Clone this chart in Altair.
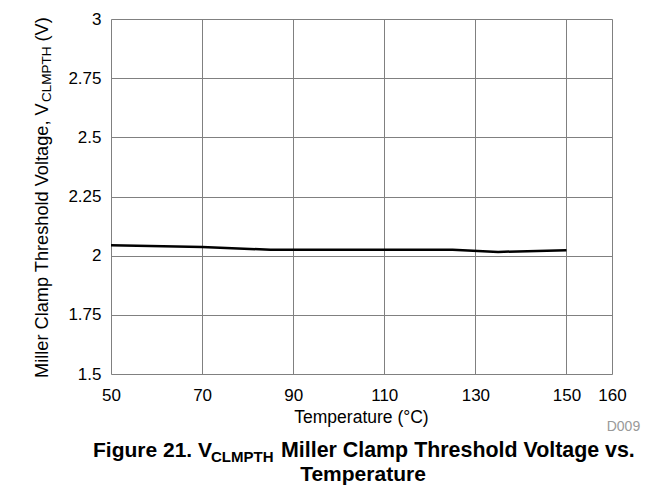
import altair as alt
import pandas as pd

# Data
temperature = [50, 70, 85, 100, 125, 135, 150]
vclmpth = [2.044, 2.037, 2.025, 2.025, 2.025, 2.016, 2.023]

x_ticks = [50, 70, 90, 110, 130, 150, 160]
y_ticks = [1.5, 1.75, 2.0, 2.25, 2.5, 2.75, 3.0]

FONT = "Liberation Sans"

df = pd.DataFrame({"temp": temperature, "v": vclmpth})

W, H = 501, 355

line = alt.Chart(df).mark_line(color="black", strokeWidth=2.5).encode(
    x=alt.X("temp:Q", scale=alt.Scale(domain=[50, 160], nice=False, zero=False),
            axis=alt.Axis(values=x_ticks, title=None, grid=True, gridColor="#808080",
                          gridWidth=1, domain=False, ticks=False, tickSize=0,
                          labelFont=FONT, labelFontSize=17, labelColor="black",
                          labelPadding=13, labelFlush=False)),
    y=alt.Y("v:Q", scale=alt.Scale(domain=[1.5, 3], nice=False, zero=False),
            axis=alt.Axis(values=y_ticks, labelExpr="'' + datum.value", title=None,
                          grid=True, gridColor="#808080", gridWidth=1, domain=False,
                          ticks=False, tickSize=0, labelFont=FONT, labelFontSize=17,
                          labelColor="black", labelPadding=10, labelFlush=False)),
)


def txt(s, x, y, size, bold=False, align="left", angle=0, color="black", baseline="alphabetic"):
    return alt.Chart(pd.DataFrame({"t": [s]})).mark_text(
        font=FONT, fontSize=size, fontWeight="bold" if bold else "normal",
        align=align, baseline=baseline, angle=angle, color=color,
    ).encode(x=alt.value(x), y=alt.value(y), text="t:N")


texts = [
    # y axis title (rotated), with subscript
    txt("Miller Clamp Threshold Voltage, V", -62.7, 359, 18.2, angle=270),
    txt("CLMPTH", -60, 83, 13.5, angle=270),
    txt("(V)", -62.7, 22.5, 18.2, angle=270),
    # x axis title
    txt("Temperature (°C)", 250.5, 404.3, 17.5, align="center"),
    txt("D009", 495.7, 411.7, 14, color="#999999"),
    # figure caption
    txt("Figure 21. V", -18, 438, 21, bold=True),
    txt("CLMPTH", 100, 442.5, 15, bold=True),
    txt("Miller Clamp Threshold Voltage vs.", 170, 438, 21.4, bold=True),
    txt("Temperature", 252, 462, 21, bold=True, align="center"),
]

chart = alt.layer(line, *texts).properties(
    width=W, height=H,
    padding={"left": 103, "top": 11, "right": 51, "bottom": 111},
    autosize=alt.AutoSizeParams(type="none"),
).configure_view(stroke="black", strokeWidth=2.5).configure(background="white")

chart.save("out.html", embed_options={"renderer": "svg", "actions": False})
